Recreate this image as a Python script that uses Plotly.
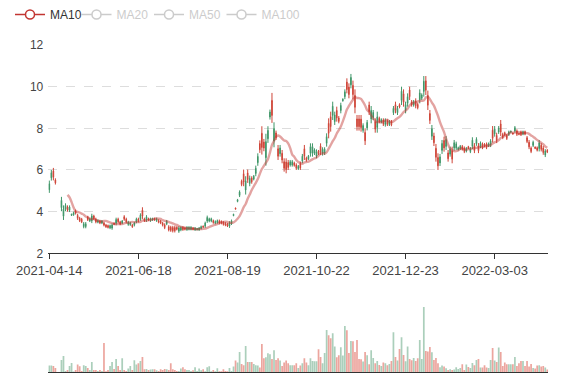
import plotly.graph_objects as go
import pandas as pd

# ---------------- data ----------------
TICK_INDEX = [0, 44, 88, 132, 176, 220]
TICK_LABELS = ["2021-04-14", "2021-06-18", "2021-08-19", "2021-10-22", "2021-12-23", "2022-03-03"]

OPEN = [
    5.34, 5.87, 5.65, 5.38, None, None, 4.54, 4.12, 4.30, 4.08,
    4.22, 3.88, 3.95, 3.92, 3.68, 3.56, 3.51, 3.42, 3.42, 3.61,
    3.65, 3.79, 3.66, 3.51, 3.58, 3.45, 3.55, 3.35, 3.27, 3.24,
    3.33, 3.36, 3.38, 3.62, 3.51, 3.40, 3.55, 3.63, 3.51, 3.50,
    3.46, 3.27, 3.46, 3.64, 3.54, 3.83, 3.79, 3.56, 3.75, 3.60,
    3.66, 3.67, 3.60, 3.66, 3.49, 3.45, 3.35, 3.23, 3.54, 3.12,
    3.10, 3.08, 3.08, 3.15, 3.22, 3.24, 3.13, 3.14, 3.25, 3.25,
    3.25, 3.14, 3.22, 3.19, 3.22, 3.28, 3.25, 3.45, 3.72, 3.66,
    3.66, 3.47, 3.53, 3.57, 3.45, 3.44, 3.38, 3.35, 3.31, 3.46,
    3.56, 3.87, 4.12, 4.57, 4.94, 5.30, 5.42, 5.48, 5.54, 5.60,
    5.43, 5.70, 6.08, 6.65, 6.97, 7.08, 7.05, 7.36, 7.90, 8.78,
    8.62, 7.99, 7.55, 6.66, 7.06, 6.48, 6.08, 6.02, 6.12, 6.40,
    6.40, 6.22, 6.08, 6.18, 6.10, 6.66, 6.66, 6.46, 6.66, 7.12,
    7.12, 6.96, 6.88, 6.78, 6.86, 6.99, 7.00, 7.60, 7.76, 8.08,
    9.06, 8.64, 8.50, 8.33, 9.10, 9.40, 9.75, 9.86, 9.62, 10.44,
    9.62, 9.01, 8.08, 8.08, 8.04, 8.13, 7.40, 8.28, 8.80, 8.86,
    8.76, 7.96, 8.55, 8.32, 8.42, 8.20, 8.38, 8.19, 8.33, 8.17,
    8.96, 8.86, 8.96, 9.02, 9.78, 9.25, 9.14, 9.52, 9.52, 9.12,
    9.28, 9.08, 8.99, 9.70, 9.60, 10.26, 9.83, 9.11, 8.38, 7.98,
    7.31, 6.61, 6.20, 6.63, 7.27, 7.06, 7.46, 6.54, 7.00, 6.52,
    7.31, 7.26, 7.07, 7.14, 7.00, 6.89, 7.04, 7.04, 7.03, 7.43,
    6.93, 7.47, 6.93, 7.29, 7.08, 7.15, 7.08, 7.27, 7.39, 7.52,
    7.98, 7.42, 8.02, 7.82, 7.56, 7.68, 7.51, 7.83, 7.87, 7.72,
    8.03, 7.71, 7.70, 7.69, 7.84, 7.72, 7.37, 7.11, 6.89, 7.33,
    7.03, 6.95, 7.30, 6.99, 6.84, 6.91, 6.86,
]

HIGH = [
    5.49, 6.00, 6.10, 5.60, None, None, 4.71, 4.30, 4.40, 4.30,
    4.30, 3.90, 4.00, 4.10, 3.90, 3.75, 3.70, 3.50, 3.50, 3.80,
    3.70, 3.90, 3.85, 3.71, 3.63, 3.60, 3.60, 3.51, 3.41, 3.38,
    3.38, 3.44, 3.48, 3.71, 3.71, 3.56, 3.60, 3.83, 3.71, 3.56,
    3.51, 3.41, 3.51, 3.71, 3.71, 3.92, 4.21, 3.71, 3.83, 3.71,
    3.71, 3.71, 3.71, 3.71, 3.63, 3.60, 3.51, 3.44, 3.60, 3.35,
    3.32, 3.32, 3.32, 3.30, 3.30, 3.30, 3.30, 3.26, 3.30, 3.30,
    3.30, 3.26, 3.26, 3.22, 3.26, 3.33, 3.33, 3.52, 3.81, 3.71,
    3.71, 3.62, 3.58, 3.62, 3.62, 3.58, 3.54, 3.49, 3.46, 3.54,
    3.62, 3.90, 4.19, 4.61, 5.02, 5.54, 6.02, 5.70, 6.02, 5.73,
    5.70, 5.76, 6.21, 6.80, 7.42, 8.10, 7.49, 7.74, 8.10, 8.90,
    9.70, 8.29, 7.89, 7.20, 7.20, 6.96, 6.56, 6.56, 6.48, 6.48,
    6.48, 6.40, 6.32, 6.24, 6.40, 6.77, 7.20, 6.64, 6.72, 7.28,
    7.28, 7.04, 6.99, 6.96, 7.28, 7.09, 7.09, 7.76, 8.48, 8.80,
    9.28, 8.80, 9.04, 8.59, 9.23, 9.44, 9.87, 10.40, 10.16, 10.61,
    10.29, 9.87, 8.64, 8.64, 8.64, 8.24, 8.00, 8.40, 9.28, 9.07,
    8.88, 8.48, 8.80, 8.56, 8.48, 8.48, 8.48, 8.43, 8.40, 8.40,
    9.07, 9.28, 9.07, 9.20, 10.00, 9.87, 9.28, 9.68, 10.00, 9.36,
    9.36, 9.44, 9.23, 9.87, 9.68, 10.51, 10.51, 9.81, 8.88, 8.16,
    7.79, 7.25, 6.80, 6.77, 7.44, 7.60, 7.63, 6.96, 7.12, 7.12,
    7.44, 7.36, 7.12, 7.20, 7.20, 7.13, 7.10, 7.16, 7.10, 7.57,
    7.29, 7.57, 7.29, 7.37, 7.32, 7.29, 7.32, 7.32, 7.48, 8.11,
    8.11, 7.79, 8.11, 8.40, 7.79, 7.84, 7.73, 7.89, 7.89, 7.79,
    8.11, 7.95, 7.79, 7.89, 7.89, 7.89, 7.63, 7.44, 7.13, 7.41,
    7.13, 7.13, 7.44, 7.29, 7.16, 7.00, 7.00,
]

LOW = [
    4.90, 5.49, 5.50, 5.30, None, None, 4.02, 3.60, 4.02, 4.00,
    3.98, 3.80, 3.80, 3.86, 3.60, 3.50, 3.45, 3.20, 3.20, 3.55,
    3.50, 3.45, 3.60, 3.44, 3.44, 3.40, 3.40, 3.29, 3.22, 3.19,
    3.16, 3.13, 3.35, 3.35, 3.44, 3.35, 3.40, 3.56, 3.44, 3.32,
    3.32, 3.22, 3.29, 3.44, 3.48, 3.56, 3.65, 3.51, 3.51, 3.56,
    3.51, 3.56, 3.56, 3.51, 3.44, 3.40, 3.29, 3.16, 3.35, 3.05,
    3.03, 3.00, 3.00, 3.10, 2.98, 3.06, 3.08, 3.10, 3.08, 3.10,
    3.10, 3.10, 3.08, 3.10, 3.08, 3.14, 3.22, 3.22, 3.46, 3.49,
    3.49, 3.42, 3.39, 3.42, 3.39, 3.39, 3.33, 3.30, 3.26, 3.22,
    3.36, 3.78, 4.10, 4.45, 4.70, 5.22, 5.22, 4.82, 5.38, 5.22,
    5.34, 5.50, 5.70, 6.20, 6.82, 6.74, 6.90, 6.21, 7.30, 8.42,
    8.26, 7.09, 7.44, 6.48, 6.64, 6.32, 5.92, 5.84, 6.00, 6.16,
    6.16, 6.16, 6.00, 6.00, 6.00, 6.32, 6.48, 6.40, 6.48, 6.64,
    6.64, 6.72, 6.56, 6.72, 6.72, 6.69, 6.72, 7.12, 7.52, 7.84,
    8.40, 8.16, 8.32, 8.24, 8.72, 9.28, 9.40, 9.68, 9.44, 9.92,
    9.39, 8.72, 7.89, 7.89, 7.84, 7.79, 7.20, 7.90, 8.64, 8.24,
    8.40, 7.79, 7.79, 8.24, 8.24, 8.11, 8.08, 8.11, 8.11, 8.10,
    8.64, 8.72, 8.64, 8.96, 9.12, 9.04, 8.72, 9.04, 9.36, 9.04,
    9.04, 8.96, 8.91, 9.20, 9.36, 9.52, 9.60, 8.88, 8.21, 7.44,
    7.15, 6.40, 6.00, 6.19, 6.77, 6.88, 6.96, 6.40, 6.64, 6.32,
    6.93, 6.96, 6.93, 6.96, 6.93, 6.81, 6.84, 7.00, 6.81, 7.00,
    6.81, 7.16, 6.81, 7.05, 7.00, 7.10, 7.00, 7.10, 7.10, 7.32,
    7.60, 7.29, 7.73, 7.63, 7.48, 7.63, 7.44, 7.63, 7.79, 7.70,
    7.79, 7.63, 7.67, 7.63, 7.67, 7.67, 7.29, 7.00, 6.81, 7.10,
    7.00, 6.89, 6.89, 6.89, 6.73, 6.62, 6.81,
]

CLOSE = [
    5.05, 5.62, 5.95, 5.52, None, None, 4.19, 3.78, 4.12, 4.22,
    4.06, 3.82, 3.85, 4.04, 3.82, 3.69, 3.64, 3.28, 3.28, 3.74,
    3.55, 3.56, 3.79, 3.64, 3.49, 3.55, 3.45, 3.45, 3.36, 3.33,
    3.22, 3.21, 3.45, 3.44, 3.64, 3.51, 3.45, 3.76, 3.64, 3.38,
    3.37, 3.36, 3.35, 3.51, 3.65, 3.65, 4.07, 3.66, 3.59, 3.67,
    3.56, 3.60, 3.67, 3.56, 3.58, 3.55, 3.45, 3.37, 3.41, 3.28,
    3.25, 3.24, 3.24, 3.25, 3.06, 3.12, 3.25, 3.22, 3.13, 3.15,
    3.15, 3.22, 3.12, 3.13, 3.12, 3.19, 3.30, 3.30, 3.55, 3.55,
    3.55, 3.57, 3.44, 3.47, 3.56, 3.53, 3.49, 3.44, 3.41, 3.30,
    3.42, 3.81, 4.17, 4.49, 4.78, 5.46, 5.82, 5.04, 5.86, 5.35,
    5.61, 5.56, 5.83, 6.35, 7.27, 7.76, 7.34, 6.59, 7.50, 8.54,
    9.34, 7.39, 7.78, 7.02, 6.78, 6.80, 6.40, 6.38, 6.36, 6.24,
    6.24, 6.34, 6.24, 6.06, 6.30, 6.43, 7.02, 6.58, 6.54, 6.80,
    6.80, 6.80, 6.67, 6.90, 7.14, 6.79, 6.81, 7.28, 8.24, 8.56,
    8.62, 8.32, 8.86, 8.50, 8.85, 9.32, 9.52, 10.22, 9.98, 10.09,
    10.06, 9.58, 8.45, 8.45, 8.44, 7.90, 7.80, 8.02, 9.12, 8.45,
    8.52, 8.31, 8.04, 8.48, 8.30, 8.39, 8.18, 8.35, 8.18, 8.33,
    8.75, 9.14, 8.75, 9.14, 9.34, 9.66, 8.86, 9.20, 9.84, 9.28,
    9.12, 9.32, 9.15, 9.37, 9.44, 9.77, 10.28, 9.58, 8.71, 7.62,
    7.63, 7.04, 6.60, 6.34, 6.94, 7.42, 7.13, 6.82, 6.76, 6.92,
    7.06, 7.06, 6.98, 7.02, 7.13, 7.05, 6.90, 7.12, 6.88, 7.14,
    7.17, 7.26, 7.17, 7.13, 7.24, 7.24, 7.24, 7.15, 7.19, 7.91,
    7.73, 7.66, 7.82, 8.21, 7.71, 7.79, 7.66, 7.70, 7.81, 7.77,
    7.87, 7.87, 7.76, 7.83, 7.72, 7.84, 7.55, 7.33, 7.05, 7.18,
    7.10, 7.07, 7.03, 7.19, 7.05, 6.72, 6.95,
]

VOLUME = [
    67, 67, 63, 43, None, None, 123, 163, 13, 23,
    63, 93, 7, 23, 77, 60, 13, 70, 63, 43,
    23, 103, 23, 23, 13, 23, 13, 293, 10, 23,
    63, 103, 33, 133, 63, 23, 140, 23, 13, 37,
    63, 23, 120, 77, 90, 113, 153, 30, 33, 23,
    27, 30, 30, 20, 13, 30, 23, 33, 30, 23,
    90, 30, 23, 13, 13, 37, 50, 30, 23, 23,
    13, 20, 50, 13, 37, 20, 30, 10, 50, 60,
    10, 23, 10, 40, 10, 10, 30, 13, 10, 43,
    13, 57, 117, 97, 203, 83, 70, 263, 103, 103,
    103, 83, 70, 67, 47, 283, 140, 150, 190, 180,
    133, 220, 123, 140, 117, 63, 97, 117, 90, 70,
    70, 70, 90, 43, 67, 90, 140, 97, 70, 140,
    113, 110, 110, 230, 153, 90, 193, 423, 370, 340,
    390, 257, 150, 170, 250, 167, 463, 420, 193, 313,
    310, 203, 323, 133, 130, 107, 203, 170, 80, 220,
    143, 90, 113, 73, 63, 97, 90, 70, 83, 113,
    400, 153, 117, 233, 350, 173, 110, 257, 133, 120,
    143, 113, 140, 323, 133, 653, 213, 207, 253, 200,
    123, 143, 90, 50, 67, 57, 40, 23, 30, 23,
    27, 50, 33, 43, 80, 23, 77, 53, 43, 93,
    70, 123, 133, 47, 47, 70, 47, 43, 123, 243,
    117, 103, 247, 203, 63, 97, 80, 80, 80, 80,
    153, 63, 90, 113, 113, 63, 113, 57, 83, 43,
    37, 67, 70, 57, 63, 47, 27,
]

MA_WINDOWS = [10, 20, 50, 100]
MA_NAMES = ["MA10", "MA20", "MA50", "MA100"]

# ---------------- styles ----------------
# the page body keeps an 8px margin, so the figure is laid out 8px in from the window edge
PAGE_OFF = 8
W, H = 577 - PAGE_OFF, 380 - PAGE_OFF
UP_COLOR = "#cf4538"
DOWN_COLOR = "#3f9668"
UP_VOL = "rgba(224,110,98,0.62)"
DOWN_VOL = "rgba(120,178,146,0.62)"
MA_COLOR = "#c23531"
FONT = "Liberation Sans, Arial, sans-serif"

N = len(CLOSE)
idx = list(range(N))


def moving_average(n):
    s = pd.Series([float("nan") if c is None else c for c in CLOSE])
    ma = s.rolling(n, min_periods=1).mean()
    return [None if i < n - 1 else round(float(v), 4) for i, v in enumerate(ma)]


vol_colors = []
for o, c in zip(OPEN, CLOSE):
    if o is None or c is None:
        vol_colors.append(DOWN_VOL)
    else:
        vol_colors.append(UP_VOL if c > o else DOWN_VOL)

fig = go.Figure()

fig.add_trace(go.Candlestick(
    x=idx, open=OPEN, high=HIGH, low=LOW, close=CLOSE,
    increasing=dict(line=dict(color=UP_COLOR, width=1), fillcolor=UP_COLOR),
    decreasing=dict(line=dict(color=DOWN_COLOR, width=1), fillcolor=DOWN_COLOR),
    whiskerwidth=0, showlegend=False, hoverinfo="skip",
    xaxis="x", yaxis="y",
))

fig.add_trace(go.Scatter(
    x=idx, y=moving_average(10), mode="lines",
    line=dict(color=MA_COLOR, width=2.4, shape="spline", smoothing=0.8),
    opacity=0.45, showlegend=False, hoverinfo="skip",
    xaxis="x", yaxis="y",
))

# legend entries
fig.add_trace(go.Scatter(
    x=[None], y=[None], mode="lines+markers",
    name="<span style='color:#333333'>%s</span>" % MA_NAMES[0],
    line=dict(color=MA_COLOR, width=1.5),
    marker=dict(symbol="circle", size=9, color="white",
                line=dict(color=MA_COLOR, width=1.5)),
    legendwidth=21.5,
    xaxis="x", yaxis="y",
))
for w, name in zip(MA_WINDOWS[1:], MA_NAMES[1:]):
    fig.add_trace(go.Scatter(
        x=idx, y=moving_average(w), mode="lines+markers",
        name="<span style='color:#999999'>%s</span>" % name,
        line=dict(color="#999999", width=1.5),
        marker=dict(symbol="circle", size=9, color="white",
                    line=dict(color="#999999", width=1.5)),
        legendwidth=45 if name == "MA100" else None,
        visible="legendonly", xaxis="x", yaxis="y",
    ))

fig.add_trace(go.Bar(
    x=idx, y=VOLUME, marker=dict(color=vol_colors, line=dict(width=0)),
    showlegend=False, hoverinfo="skip", xaxis="x2", yaxis="y2",
))

# target page-pixel geometry, converted to figure fractions
X0, X1 = 48.3 - PAGE_OFF, 548.3 - PAGE_OFF
MAIN_TOP, MAIN_BOT = 45.0 - PAGE_OFF, 253.3 - PAGE_OFF
VOL_TOP, VOL_BOT = 300.0 - PAGE_OFF, 372.3 - PAGE_OFF
xdom = [X0 / W, X1 / W]
main_dom = [(H - MAIN_BOT) / H, (H - MAIN_TOP) / H]
vol_dom = [(H - VOL_BOT) / H, (H - VOL_TOP) / H]

fig.update_layout(
    width=W, height=H,
    margin=dict(l=0, r=0, t=0, b=0, autoexpand=False),
    paper_bgcolor="white", plot_bgcolor="white",
    font=dict(family=FONT, size=12, color="#444"),
    boxgap=0.55, bargap=0.15,
    showlegend=True,
    legend=dict(orientation="h", x=2.0 / W, y=1 + 8.0 / H, xanchor="left", yanchor="top",
                font=dict(size=12, color="#333"), entrywidth=27.5,
                entrywidthmode="pixels",
                bgcolor="rgba(0,0,0,0)", traceorder="normal"),
    xaxis=dict(domain=xdom, range=[-0.5, N - 0.5], anchor="y",
               tickmode="array", tickvals=TICK_INDEX, ticktext=TICK_LABELS,
               ticks="outside", ticklen=5, tickcolor="#333",
               showline=True, linecolor="#333", linewidth=1,
               showgrid=False, zeroline=False,
               tickfont=dict(size=13, color="#444"),
               rangeslider=dict(visible=False), fixedrange=True),
    yaxis=dict(domain=main_dom, range=[2, 12], dtick=2, anchor="x",
               showgrid=True, gridcolor="#dddddd", griddash="dash", gridwidth=1,
               showline=False, zeroline=False, ticks="",
               ticklabelstandoff=4,
               tickfont=dict(size=12, color="#444"), fixedrange=True),
    xaxis2=dict(domain=xdom, range=[-0.5, N - 0.5], anchor="y2",
                showticklabels=False, ticks="", showgrid=False, zeroline=False,
                showline=True, linecolor="#333", linewidth=1, fixedrange=True),
    yaxis2=dict(domain=vol_dom, range=[0, 723], anchor="x2",
                visible=False, showgrid=False, zeroline=False, fixedrange=True),
)

fig.write_html("out.html")
